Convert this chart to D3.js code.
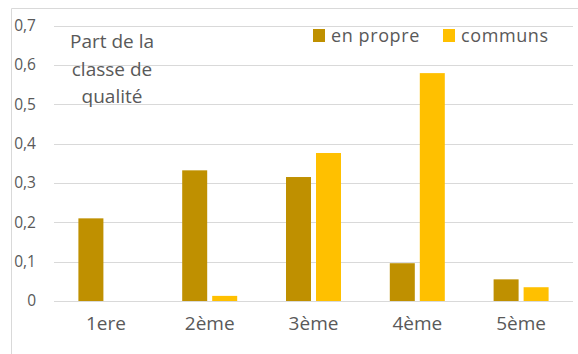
<!DOCTYPE html>
<html>
<head>
<meta charset="utf-8">
<script src="https://cdn.jsdelivr.net/npm/d3@7"></script>
<style>
  html, body { margin: 0; padding: 0; background: #fff; }
  svg { display: block; }
  text { font-family: "Open Sans", sans-serif; fill: #595959; }
</style>
</head>
<body>
<svg id="chart" width="578" height="354"></svg>
<script>
// Data
const categories = ["1ere", "2ème", "3ème", "4ème", "5ème"];
const seriesNames = ["en propre", "communs"];
const enPropre = [0.21, 0.332, 0.315, 0.096, 0.055];
const communs = [0, 0.013, 0.376, 0.579, 0.035];
const yTicks = [0, 0.1, 0.2, 0.3, 0.4, 0.5, 0.6, 0.7];
const titleLines = ["Part de la", "classe de", "qualité"];
const colors = ["#BF9000", "#FFC000"];

const svg = d3.select("#chart");
const W = 578, H = 354;
const plot = { left: 54, right: 573, top: 25.5, bottom: 301 };

// chart frame
svg.append("path")
  .attr("d", `M11.5,${H} V8.5 H${W}`)
  .attr("fill", "none")
  .attr("stroke", "#D9D9D9")
  .attr("stroke-width", 1);

const x0 = d3.scaleBand().domain(categories).range([plot.left, plot.right]).padding(0);
const bw = x0.bandwidth();
const x1 = d3.scaleBand().domain(seriesNames)
  .range([bw / 2 - 27.5, bw / 2 + 27.5])
  .paddingInner(1 / 6).paddingOuter(0);
const y = d3.scaleLinear().domain([0, 0.7]).range([plot.bottom, plot.top]);

const locale = d3.formatLocale({ decimal: ",", thousands: " ", grouping: [3], currency: ["", " €"] });
const fmt = v => v === 0 ? "0" : locale.format(".1f")(v);

// gridlines
svg.append("g").selectAll("line").data(yTicks).join("line")
  .attr("x1", plot.left).attr("x2", plot.right)
  .attr("y1", d => Math.round(y(d)) + 0.5).attr("y2", d => Math.round(y(d)) + 0.5)
  .attr("stroke", "#D9D9D9").attr("stroke-width", 1);

// y axis labels
const yAxis = d3.axisLeft(y).tickValues(yTicks).tickFormat(fmt).tickSize(0).tickPadding(0);
const gy = svg.append("g").attr("transform", "translate(36,0)").call(yAxis);
gy.select(".domain").remove();
gy.selectAll("text").attr("font-size", 15.5).attr("fill", "#595959")
  .style("font-family", "'Open Sans', sans-serif");

// x axis labels
const xAxis = d3.axisBottom(x0).tickSize(0).tickPadding(0);
const gx = svg.append("g").attr("transform", "translate(0,316)").call(xAxis);
gx.select(".domain").remove();
gx.selectAll("text").attr("font-size", 19).attr("fill", "#595959")
  .style("font-family", "'Open Sans', sans-serif");

// bars
const rows = categories.map((c, i) => ({ cat: c, values: [enPropre[i], communs[i]] }));
svg.append("g").selectAll("g").data(rows).join("g")
  .attr("transform", d => `translate(${x0(d.cat)},0)`)
  .selectAll("rect")
  .data(d => d.values.map((v, j) => ({ key: seriesNames[j], v, j })))
  .join("rect")
  .attr("x", d => x1(d.key))
  .attr("width", x1.bandwidth())
  .attr("y", d => y(d.v))
  .attr("height", d => y(0) - y(d.v))
  .attr("fill", d => colors[d.j]);

// title block inside the plot
const title = svg.append("text").attr("text-anchor", "middle").attr("font-size", 19);
titleLines.forEach((t, i) => {
  title.append("tspan").attr("x", 112).attr("y", 48 + i * 27.5).text(t);
});

// legend
const legendX = [313, 443];
const lg = svg.append("g");
seriesNames.forEach((s, i) => {
  lg.append("rect").attr("x", legendX[i]).attr("y", 29).attr("width", 12).attr("height", 13).attr("fill", colors[i]);
  lg.append("text").attr("x", legendX[i] + 18).attr("y", 42).attr("font-size", 18)
    .attr("letter-spacing", 0.6).text(s);
});
</script>
</body>
</html>
